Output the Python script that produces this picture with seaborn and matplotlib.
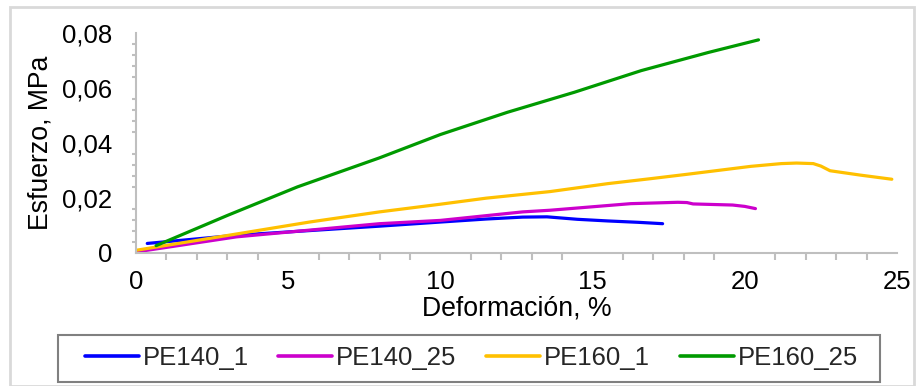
import matplotlib
matplotlib.use("Agg")
import matplotlib.pyplot as plt
from matplotlib.patches import Rectangle
from matplotlib.ticker import MultipleLocator, FuncFormatter
import pandas as pd
import seaborn as sns

# Stress-strain curves (strain in %, stress in MPa)
series_names = ["PE140_1", "PE140_25", "PE160_1", "PE160_25"]

pe140_1_x = [0.37, 3.3, 8.0, 10.0, 11.5, 12.7, 13.5, 14.5, 15.5, 16.5, 17.3]
pe140_1_y = [0.0033, 0.0063, 0.0096, 0.0111, 0.0122, 0.0129, 0.0130, 0.0121, 0.0115, 0.0110, 0.0105]

pe140_25_x = [0.0, 3.3, 8.0, 10.0, 12.7, 13.6, 16.25, 17.8, 18.1, 18.3, 19.6, 20.0, 20.35]
pe140_25_y = [0.0002, 0.0057, 0.0105, 0.0117, 0.0148, 0.0154, 0.0178, 0.0183, 0.0182, 0.0177, 0.0173, 0.0168, 0.0160]

pe160_1_x = [0.0, 3.0, 5.7, 8.0, 10.0, 11.5, 13.6, 15.5, 16.9, 18.1, 20.2, 21.2, 21.7, 22.25, 22.5, 22.8, 23.8, 24.83]
pe160_1_y = [0.0008, 0.0062, 0.0111, 0.0148, 0.0176, 0.0198, 0.0222, 0.0251, 0.0269, 0.0285, 0.0314, 0.0324, 0.0326, 0.0324, 0.0315, 0.0298, 0.0282, 0.0267]

pe160_25_x = [0.66, 3.0, 5.3, 8.0, 10.0, 12.2, 14.4, 16.6, 18.8, 20.45]
pe160_25_y = [0.0025, 0.0135, 0.0239, 0.0345, 0.0430, 0.0511, 0.0584, 0.0663, 0.0729, 0.0775]

x_ticks = [0, 5, 10, 15, 20, 25]
y_ticks = [0, 0.02, 0.04, 0.06, 0.08]

colors = ["#0000FF", "#CC00CC", "#FFC000", "#009A00"]

frames = []
for name, xs, ys in zip(series_names,
                        [pe140_1_x, pe140_25_x, pe160_1_x, pe160_25_x],
                        [pe140_1_y, pe140_25_y, pe160_1_y, pe160_25_y]):
    frames.append(pd.DataFrame({"Deformación": xs, "Esfuerzo": ys, "Serie": name}))
df = pd.concat(frames, ignore_index=True)

sns.set_theme(style="white")
plt.rcParams["font.family"] = ["Liberation Sans", "DejaVu Sans"]
FS = 18.5
FS_LABEL = 19.2
GRAY = "#BFBFBF"
W, H = 919, 386

fig = plt.figure(figsize=(W / 100, H / 100), dpi=100)
ax = fig.add_axes([136 / W, 1 - 252.5 / H, (897 - 136) / W, (252.5 - 33) / H])

sns.lineplot(data=df, x="Deformación", y="Esfuerzo", hue="Serie",
             hue_order=series_names, palette=colors, sort=False,
             estimator=None, linewidth=2.3, ax=ax, legend=True)

ax.set_xlim(0, 25)
ax.set_ylim(0, 0.08)
ax.set_xticks(x_ticks)
ax.set_yticks(y_ticks)
ax.xaxis.set_minor_locator(MultipleLocator(1))
ax.yaxis.set_minor_locator(MultipleLocator(0.004))
ax.yaxis.set_major_formatter(FuncFormatter(
    lambda v, _: "0" if abs(v) < 1e-12 else f"{v:.2f}".replace(".", ",")))
ax.xaxis.set_major_formatter(FuncFormatter(lambda v, _: f"{v:g}"))

for side in ["top", "right"]:
    ax.spines[side].set_visible(False)
for side in ["left", "bottom"]:
    ax.spines[side].set_color(GRAY)
    ax.spines[side].set_linewidth(1.5)

ax.tick_params(axis="both", which="both", direction="out", color=GRAY,
               width=1.5, labelcolor="black", labelsize=FS)
ax.tick_params(axis="y", which="major", length=6, pad=11)
ax.tick_params(axis="y", which="minor", length=3)
ax.tick_params(axis="x", which="major", length=5.5, pad=7)
ax.tick_params(axis="x", which="minor", length=5)
ax.tick_params(axis="both", which="minor", left=True, bottom=True)

ax.set_xlabel("Deformación, %", fontsize=FS_LABEL, color="black", labelpad=1)
ax.set_ylabel("Esfuerzo, MPa", fontsize=FS_LABEL, color="black", labelpad=6)

handles, labels = ax.get_legend_handles_labels()
ax.legend_.remove()
leg = fig.legend(handles, labels, loc="center left", ncol=4, fontsize=FS,
                 bbox_to_anchor=(85 / W, 1 - 358 / H),
                 frameon=False, handlelength=2.1, borderpad=0.0,
                 borderaxespad=0.0, handletextpad=0.15, columnspacing=1.15)
for line in leg.get_lines():
    line.set_linewidth(2.6)

# Legend frame
fig.patches.append(Rectangle((58 / W, 1 - 382 / H), (880 - 58) / W, (382 - 335) / H,
                             transform=fig.transFigure, fill=False,
                             edgecolor="#808080", linewidth=1.5))

# Light border around the whole chart area
fig.patches.append(Rectangle((10 / W, 0.0), (914 - 10) / W, 1 - 7 / H,
                             transform=fig.transFigure, fill=False,
                             edgecolor="#D9D9D9", linewidth=2))

fig.savefig("out.png", dpi=100)
